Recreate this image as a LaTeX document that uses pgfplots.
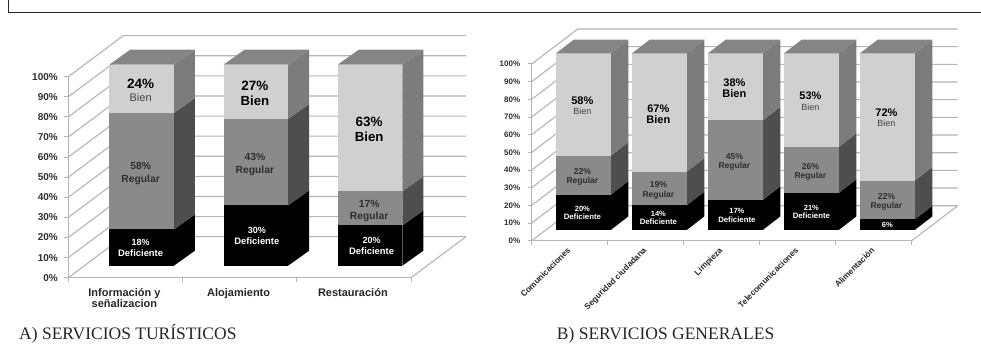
\documentclass[border=0pt]{standalone}
\usepackage{fontspec}
\usepackage{pgfplots}
\pgfplotsset{compat=1.18}
\setmainfont{Liberation Sans}
\newfontfamily\capfont{Liberation Serif}

\definecolor{gridgray}{HTML}{B4B4B4}
\definecolor{lowfront}{HTML}{000000}
\definecolor{lowside}{HTML}{000000}
\definecolor{midfront}{HTML}{8A8A8A}
\definecolor{midside}{HTML}{4E4E4E}
\definecolor{highfront}{HTML}{D0D0D0}
\definecolor{highside}{HTML}{7C7C7C}
\definecolor{capgray}{HTML}{858585}
\definecolor{inkgray}{HTML}{2E2E2E}

\newcommand\fs[2][\mdseries]{\fontsize{#2}{#2}\selectfont#1}

% One filled polygon from a list of data coordinates
\newcommand\poly[2]{\addplot[draw=none,fill=#1,forget plot,mark=none] coordinates {#2} -- cycle;}

% Wall and floor lines behind the columns
\newcommand\wallline[1]{%
  \pgfmathsetmacro\wy{#1+\wallY}%
  \pgfmathsetmacro\wr{\ncat+\wallX}%
  \edef\tmp{\noexpand\addplot[gridgray,line width=1.1pt,forget plot,mark=none]
    coordinates {(0,#1) (\wallX,\wy) (\wr,\wy)};}\tmp}
\newcommand\walls{%
  \wallline{0}\wallline{10}\wallline{20}\wallline{30}\wallline{40}\wallline{50}%
  \wallline{60}\wallline{70}\wallline{80}\wallline{90}\wallline{100}%
  \pgfmathsetmacro\wa{\ncat+\wallX}%
  \edef\tmp{\noexpand\addplot[gridgray,line width=1.1pt,forget plot,mark=none]
    coordinates {(\ncat,0) (\wa,\wallY)};}\tmp}

% One stacked segment of a column: position, base, value, front colour, side colour
\newcommand\segment[5]{%
  \pgfmathsetmacro\xa{#1+\barOff}%
  \pgfmathsetmacro\xb{\xa+\barW}%
  \pgfmathsetmacro\xc{\xb+\depthX}%
  \pgfmathsetmacro\ya{#2+\lift}%
  \pgfmathsetmacro\yb{\ya+#3}%
  \pgfmathsetmacro\yc{\ya+\depthY}%
  \pgfmathsetmacro\yd{\yb+\depthY}%
  \edef\tmp{\noexpand\poly{#5}{(\xb,\ya)(\xc,\yc)(\xc,\yd)(\xb,\yb)}%
    \noexpand\poly{#4}{(\xa,\ya)(\xb,\ya)(\xb,\yb)(\xa,\yb)}}\tmp}

% Two-line label centred on a segment: position, base, value, x nudge, gap, styles, name
\newcommand\seglabel[8]{%
  \pgfmathsetmacro\lx{#1+\barOff+0.5*\barW}%
  \pgfmathsetmacro\ly{#2+\lift+0.5*#3}%
  \pgfmathsetmacro\up{0.5*#5}%
  \pgfmathsetmacro\dn{-0.5*#5}%
  \edef\tmp{\noexpand\node[anchor=base,inner sep=0pt,#6,xshift=#4pt,yshift=\up pt]
      at (axis cs:\lx,\ly) {#3\noexpand\%};%
    \noexpand\node[anchor=base,inner sep=0pt,#7,xshift=#4pt,yshift=\dn pt]
      at (axis cs:\lx,\ly) {#8};}\tmp}

% Whole column: position, then the low, middle and high values
\newcommand\column[4]{%
  \pgfmathsetmacro\baseb{#2}%
  \pgfmathsetmacro\basec{#2+#3}%
  \pgfmathsetmacro\tops{#2+#3+#4+\lift}%
  \segment{#1}{0}{#2}{lowfront}{lowside}%
  \segment{#1}{\baseb}{#3}{midfront}{midside}%
  \segment{#1}{\basec}{#4}{highfront}{highside}%
  \pgfmathsetmacro\xa{#1+\barOff}%
  \pgfmathsetmacro\xb{\xa+\barW}%
  \pgfmathsetmacro\xc{\xb+\depthX}%
  \pgfmathsetmacro\xd{\xa+\depthX}%
  \pgfmathsetmacro\yd{\tops+\depthY}%
  \edef\tmp{\noexpand\poly{capgray}{(\xa,\tops)(\xb,\tops)(\xc,\yd)(\xd,\yd)}}\tmp
}
% Labels of a column: position, three values, name style of the top segment, its gap, x nudge of the low label
\newcommand\columnlabels[7]{%
  \pgfmathsetmacro\baseb{#2}%
  \pgfmathsetmacro\basec{#2+#3}%
  \ifnum#2>9 \seglabel{#1}{0}{#2}{#7}{\gapLow}{lowpct}{lowname}{Deficiente}%
  \else \seglabel{#1}{0}{#2}{#7}{0}{lowpct}{lowname}{}\fi
  \seglabel{#1}{\baseb}{#3}{-1}{\gapMid}{midpct}{midname}{Regular}%
  \seglabel{#1}{\basec}{#4}{-1}{#6}{toppct}{#5}{Bien}%
}

\pgfplotsset{
  panel/.style={
    scale only axis, clip=false, ymin=0, ymax=100,
    axis x line=bottom, axis y line=left,
    axis line style={-,gridgray,line width=1pt},
    tick style={gridgray,line width=1pt},
    tick align=outside, major tick length=4pt,
    ytick={0,10,...,100},
    yticklabel={\pgfmathprintnumber{\tick}\%},
    /pgf/number format/assume math mode=true,
    x tick label as interval,
    yticklabel style={text=inkgray},
    xticklabel style={text=black!85},
  },
}

\begin{document}
\begin{tikzpicture}[x=1pt,y=1pt]
\path[use as bounding box] (0,0) rectangle (981,350);
\draw[line width=1pt,color=black!85] (8.3,350) -- (8.3,337.7) -- (981,337.7);

% Panel A
\begin{axis}[panel,
  at={(68.3pt,72.3pt)}, width=342.7pt, height=201pt,
  xmin=0, xmax=3, xtick={0,1,2,3},
  xticklabels={Información y\\señalizacion,Alojamiento,Restauración},
  xticklabel style={align=center,font=\fs[\bfseries]{11},yshift=-3pt,xshift=-1pt},
  yticklabel style={font=\fs[\bfseries]{10},xshift=-3pt},
  /tikz/lowpct/.style={font=\fs[\bfseries]{9},text=white,yshift=-3.6pt},
  /tikz/lowname/.style={font=\fs[\bfseries]{9.4},text=white,yshift=-3.6pt},
  /tikz/midpct/.style={font=\fs[\bfseries]{10.3},text=inkgray,yshift=-5pt},
  /tikz/midname/.style={font=\fs[\bfseries]{10.3},text=inkgray,yshift=-4.7pt},
  /tikz/toppct/.style={font=\fs[\bfseries]{13.5},text=black,yshift=-6.2pt},
  /tikz/bigname/.style={font=\fs[\bfseries]{13.2},text=black,yshift=-5.8pt},
  /tikz/smallname/.style={font=\fs{11},text=inkgray!90,yshift=-5.6pt},
]
\def\ncat{3}\def\barOff{0.359}\def\barW{0.566}\def\depthX{0.184}\def\depthY{7.46}
\def\lift{6}\def\wallX{0.481}\def\wallY{20.4}
\def\gapLow{10.3}\def\gapMid{12.5}
\walls
\column{0}{18}{58}{24}
\column{1}{30}{43}{27}
\column{2}{20}{17}{63}
\columnlabels{0}{18}{58}{24}{smallname}{13.7}{-1}
\columnlabels{1}{30}{43}{27}{bigname}{15}{1}
\columnlabels{2}{20}{17}{63}{bigname}{15}{1.5}
\end{axis}

% Panel B
\begin{axis}[panel,
  at={(531.7pt,109.3pt)}, width=380pt, height=176.7pt,
  xmin=0, xmax=5, xtick={0,1,2,3,4,5},
  xticklabels={Comunicaciones,Seguridad ciudadana,Limpieza,Telecomunicaciones,Alimentación},
  xticklabel style={rotate=45,anchor=north east,font=\fs[\bfseries]{8.3},yshift=4.2pt,xshift=0pt},
  yticklabel style={font=\fs[\bfseries]{8},xshift=-4pt},
  /tikz/lowpct/.style={font=\fs[\bfseries]{7.5},text=white,yshift=-3.2pt},
  /tikz/lowname/.style={font=\fs[\bfseries]{7.8},text=white,yshift=-2.9pt},
  /tikz/midpct/.style={font=\fs[\bfseries]{8.6},text=inkgray,yshift=-4.6pt},
  /tikz/midname/.style={font=\fs[\bfseries]{8.5},text=inkgray,yshift=-3.4pt},
  /tikz/toppct/.style={font=\fs[\bfseries]{11},text=black,yshift=-5.6pt},
  /tikz/bigname/.style={font=\fs[\bfseries]{11},text=black,yshift=-4.8pt},
  /tikz/smallname/.style={font=\fs{9},text=inkgray!90,yshift=-4.2pt},
]
\def\ncat{5}\def\barOff{0.32}\def\barW{0.72}\def\depthX{0.233}\def\depthY{7.75}
\def\lift{6.05}\def\wallX{0.605}\def\wallY{19.8}
\def\gapLow{8.7}\def\gapMid{10.7}
\walls
\column{0}{20}{22}{58}
\column{1}{14}{19}{67}
\column{2}{17}{45}{38}
\column{3}{21}{26}{53}
\column{4}{6}{22}{72}
\columnlabels{0}{20}{22}{58}{smallname}{11.7}{-1}
\columnlabels{1}{14}{19}{67}{bigname}{12}{-1}
\columnlabels{2}{17}{45}{38}{bigname}{12}{1.5}
\columnlabels{3}{21}{26}{53}{smallname}{11.7}{0}
\columnlabels{4}{6}{22}{72}{smallname}{11.7}{0}
\end{axis}

\node[anchor=base west,inner sep=0pt,font=\capfont\fs{17.5},text=black!85] at (19,10) {A) SERVICIOS TURÍSTICOS};
\node[anchor=base west,inner sep=0pt,font=\capfont\fs{17.5},text=black!85] at (556.7,10) {B) SERVICIOS GENERALES};
\end{tikzpicture}
\end{document}
